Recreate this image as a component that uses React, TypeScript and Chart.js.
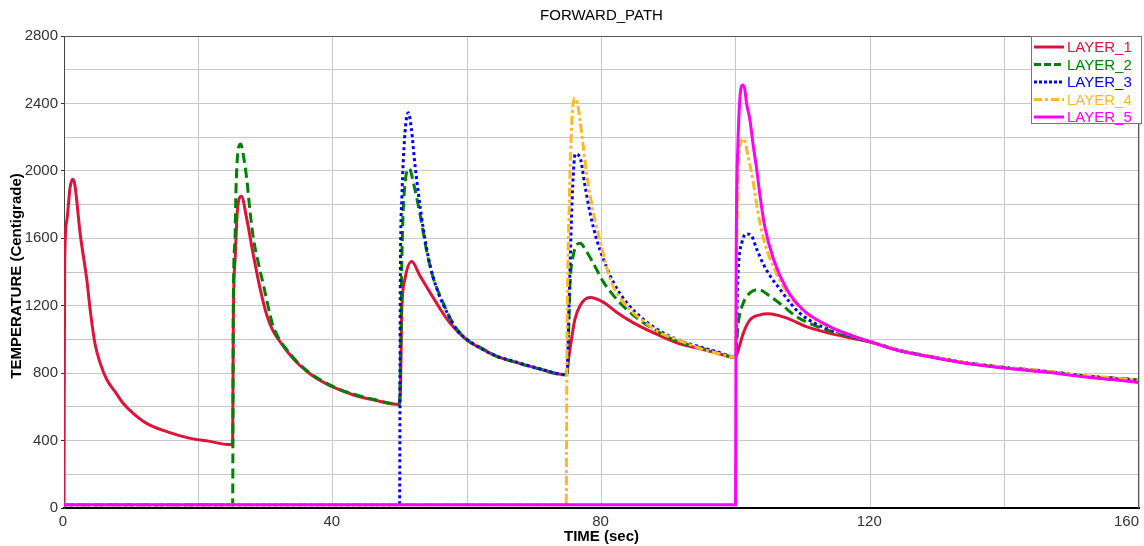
import React, { useEffect, useRef } from "react";
import { Chart, registerables } from "chart.js";

Chart.register(...registerables);

const chartTitle = "FORWARD_PATH";
const xAxisTitle = "TIME (sec)";
const yAxisTitle = "TEMPERATURE (Centigrade)";
const xTickLabels = [0, 40, 80, 120, 160];
const layerNames = ["LAYER_1", "LAYER_2", "LAYER_3", "LAYER_4", "LAYER_5"];
const layerColors = ["#DC143C", "#008000", "#0000FF", "#FFB928", "#FF00FF"];

const layer1Time = [0, 0.1, 0.4, 0.9, 1.3, 1.6, 2.4, 3.4, 3.9, 4.6, 5.4, 6.4, 7.6, 8.8, 10.3, 12.3, 15.3, 18.8, 21.2, 24.7, 25.1, 25.2, 25.5, 25.8, 26.4, 27.2, 28.2, 29.2, 30.2, 31.0, 32, 33.5, 35, 37, 40, 43, 46, 49.9, 50.1, 50.25, 50.75, 51.75, 53.0, 54.5, 56.0, 57.4, 60, 62, 64.4, 66.9, 70.3, 74.7, 75.3, 76.05, 76.8, 78.3, 80.3, 82.3, 84.7, 87.7, 91.2, 94.7, 97.6, 99.9, 100.35, 101.1, 102.1, 103.6, 104.8, 107.6, 110.5, 114, 117.5, 120, 124.4, 129.4, 134.3, 140, 146.7, 151.7, 156, 160];
const layer1Temp = [20, 1450, 1700, 1900, 1950, 1920, 1630, 1353, 1175, 977, 858, 759, 690, 621, 562, 502, 453, 413, 399, 376, 380, 1100, 1500, 1760, 1850, 1715, 1497, 1299, 1141, 1060, 995, 915, 850, 785, 718, 672, 642, 615, 745, 1140, 1358, 1462, 1376, 1277, 1180, 1100, 995, 948, 899, 868, 830, 790, 940, 1120, 1200, 1248, 1220, 1160, 1100, 1040, 980, 944, 914, 893, 936, 1036, 1116, 1146, 1152, 1126, 1076, 1036, 1006, 984, 933, 894, 860, 832, 806, 782, 768, 755];

const layer2Time = [0, 25.1, 25.2, 25.45, 25.6, 25.95, 26.3, 26.7, 27.2, 27.7, 28.2, 28.9, 29.7, 30.7, 31.1, 32, 33.5, 35, 37, 40, 43, 46, 49.9, 50.1, 50.3, 50.7, 51.4, 52.0, 53.0, 54.0, 55.0, 56.45, 57.9, 60, 62, 64.4, 66.9, 70.3, 74.7, 74.9, 75.3, 75.8, 76.8, 77.8, 78.8, 80.3, 81.8, 83.7, 86.2, 88.7, 91.2, 94.7, 97.6, 99.9, 100.35, 101.1, 102.1, 103.3, 105.1, 107.1, 109.0, 111.5, 114, 117.5, 120, 124.4, 129.4, 134.3, 140, 146.7, 151.7, 156, 160];
const layer2Temp = [20, 20, 1220, 1596, 1893, 2131, 2160, 2091, 1952, 1755, 1596, 1457, 1319, 1141, 1081, 1005, 922, 855, 790, 722, 676, 645, 615, 900, 1500, 1900, 2014, 1930, 1740, 1520, 1360, 1215, 1095, 998, 952, 900, 868, 830, 790, 800, 1320, 1500, 1570, 1520, 1450, 1340, 1260, 1180, 1100, 1040, 990, 950, 918, 893, 1096, 1216, 1276, 1296, 1256, 1196, 1136, 1086, 1050, 1012, 986, 934, 895, 861, 834, 809, 785, 772, 760];

const layer3Time = [0, 49.95, 50.05, 50.3, 50.7, 51.25, 51.7, 52.2, 52.7, 53.5, 54.5, 55.7, 57.0, 58.4, 60, 61.9, 64.4, 66.9, 70.3, 74.7, 74.9, 75.2, 75.6, 76.1, 76.8, 77.5, 78.3, 79.3, 80.3, 81.8, 83.7, 86.2, 88.7, 91.2, 94.7, 97.6, 99.9, 100.35, 100.9, 101.6, 102.3, 103.1, 104.1, 105.1, 106.6, 108.1, 109.5, 112, 114, 117.5, 120, 124.4, 129.4, 134.3, 140, 146.7, 151.7, 156, 160];
const layer3Temp = [20, 20, 1300, 1850, 2200, 2345, 2250, 2050, 1880, 1650, 1436, 1277, 1160, 1060, 1000, 950, 901, 871, 832, 792, 810, 1250, 1800, 2100, 2080, 1920, 1750, 1590, 1475, 1336, 1220, 1120, 1050, 1000, 955, 922, 896, 1416, 1576, 1626, 1616, 1536, 1446, 1376, 1296, 1216, 1156, 1090, 1060, 1018, 988, 935, 896, 862, 834, 809, 784, 771, 758];

const layer4Time = [0, 74.75, 74.85, 75.2, 75.6, 76.0, 76.3, 76.8, 77.8, 78.8, 80.0, 81.3, 83.7, 86.2, 88.7, 91.2, 93.7, 96.1, 98.6, 99.9, 100.2, 100.6, 101.2, 101.8, 102.6, 103.3, 104.3, 105.6, 107.6, 110, 114, 117.5, 120, 124.4, 129.4, 134.3, 140, 146.7, 151.7, 156, 160];
const layer4Temp = [20, 20, 900, 1800, 2300, 2430, 2420, 2300, 1980, 1750, 1550, 1356, 1200, 1110, 1040, 1000, 960, 930, 905, 893, 1710, 2150, 2190, 2090, 1930, 1750, 1570, 1430, 1280, 1170, 1070, 1020, 988, 935, 896, 862, 835, 810, 786, 772, 759];

const layer5Time = [0, 99.95, 100.05, 100.3, 100.6, 101.0, 101.3, 101.6, 102.1, 102.6, 103.1, 103.6, 104.3, 105.6, 107.6, 110, 114, 117.5, 120, 124.4, 129.4, 134.3, 140, 146.7, 151.7, 156, 160];
const layer5Temp = [20, 20, 1500, 2150, 2430, 2510, 2490, 2400, 2300, 2145, 2010, 1850, 1670, 1476, 1296, 1176, 1076, 1020, 986, 932, 893, 858, 830, 804, 778, 762, 745];

const layerTimes = [layer1Time, layer2Time, layer3Time, layer4Time, layer5Time];
const layerTemps = [layer1Temp, layer2Temp, layer3Temp, layer4Temp, layer5Temp];
const layerDash: number[][] = [[], [10, 5], [3, 3], [9, 3, 3, 3], []];
const legendDash: number[][] = [[], [7, 3], [3, 2], [8, 3, 3, 3], []];

const FONT = '"Liberation Sans", Arial, sans-serif';

const decorPlugin = {
  id: "decor",
  afterDraw(chart: any) {
    const { ctx, chartArea: a, scales } = chart;
    const x = scales.x;
    ctx.save();
    ctx.strokeStyle = "#555";
    ctx.lineWidth = 1;
    ctx.setLineDash([]);
    ctx.beginPath();
    ctx.moveTo(a.left, a.top + 0.5);
    ctx.lineTo(a.right - 0.5, a.top + 0.5);
    ctx.lineTo(a.right - 0.5, a.bottom);
    ctx.stroke();

    ctx.fillStyle = "#000";
    ctx.font = `15px ${FONT}`;
    ctx.textAlign = "center";
    ctx.textBaseline = "middle";
    ctx.fillText(chartTitle, (a.left + a.right) / 2, 16);

    ctx.fillStyle = "#333";
    ctx.textBaseline = "top";
    xTickLabels.forEach((v, i) => {
      const px = x.getPixelForValue(v);
      if (i === xTickLabels.length - 1) {
        ctx.textAlign = "right";
        ctx.fillText(String(v), px, 514);
      } else {
        ctx.textAlign = "center";
        ctx.fillText(String(v), px - 1, 514);
      }
    });

    ctx.fillStyle = "#000";
    ctx.font = `bold 15px ${FONT}`;
    ctx.textAlign = "center";
    ctx.textBaseline = "middle";
    ctx.fillText(xAxisTitle, (a.left + a.right) / 2, 537);
    ctx.save();
    ctx.translate(17, 276);
    ctx.rotate(-Math.PI / 2);
    ctx.fillText(yAxisTitle, 0, 0);
    ctx.restore();

    const bx = 1031.5, by = 36.5, bw = 110, bh = 87;
    ctx.fillStyle = "#fff";
    ctx.fillRect(bx, by, bw, bh);
    ctx.strokeStyle = "#777";
    ctx.lineWidth = 1;
    ctx.strokeRect(bx, by, bw, bh);
    ctx.font = `15px ${FONT}`;
    ctx.textAlign = "left";
    ctx.textBaseline = "middle";
    layerNames.forEach((name, i) => {
      const y = 47 + i * 17.5;
      ctx.strokeStyle = layerColors[i];
      ctx.lineWidth = 3;
      ctx.setLineDash(legendDash[i]);
      ctx.beginPath();
      ctx.moveTo(1034, y);
      ctx.lineTo(1064, y);
      ctx.stroke();
      ctx.setLineDash([]);
      ctx.fillStyle = layerColors[i];
      ctx.fillText(name, 1067, y + 1);
    });
    ctx.restore();
  },
};

export default function App() {
  const ref = useRef<HTMLCanvasElement | null>(null);
  useEffect(() => {
    document.body.style.margin = "0";
    const canvas = ref.current;
    if (!canvas) return;
    const datasets = layerNames.map((name, i) => ({
      label: name,
      data: layerTimes[i].map((t, j) => ({ x: t, y: layerTemps[i][j] })),
      borderColor: layerColors[i],
      backgroundColor: layerColors[i],
      borderWidth: 3,
      borderDash: layerDash[i],
      pointRadius: 0,
      fill: false,
      tension: 0.4,
      cubicInterpolationMode: "monotone" as const,
      order: 5 - i,
    }));
    const chart = new Chart(canvas, {
      type: "line",
      data: { datasets },
      options: {
        animation: false,
        responsive: false,
        maintainAspectRatio: false,
        devicePixelRatio: 1,
        layout: { padding: { top: 36, right: 5, left: 0, bottom: 0 } },
        font: { family: FONT },
        plugins: {
          legend: { display: false },
          title: { display: false },
          tooltip: { enabled: false },
        },
        scales: {
          x: {
            type: "linear",
            min: 0,
            max: 160,
            ticks: { stepSize: 20, display: false },
            grid: { color: "#C8C8C8", drawTicks: false },
            border: { color: "#000", width: 2 },
            afterFit: (s: any) => {
              s.height = 38;
            },
          },
          y: {
            type: "linear",
            min: 0,
            max: 2800,
            ticks: {
              stepSize: 200,
              autoSkip: false,
              padding: 3,
              color: "#333",
              font: { size: 15, family: FONT },
              callback: (v: any) => (Number(v) % 400 === 0 ? String(v) : ""),
            },
            grid: {
              color: "#C8C8C8",
              tickLength: 3,
              tickColor: (c: any) =>
                c.tick && c.tick.value % 400 === 0 ? "#333" : "rgba(0,0,0,0)",
            },
            border: { color: "#444", width: 1 },
            afterFit: (s: any) => {
              s.width = 64;
            },
          },
        },
      } as any,
      plugins: [decorPlugin],
    });
    return () => chart.destroy();
  }, []);
  return (
    <div style={{ width: 1144, height: 546 }}>
      <canvas ref={ref} width={1144} height={546} style={{ display: "block" }} />
    </div>
  );
}
